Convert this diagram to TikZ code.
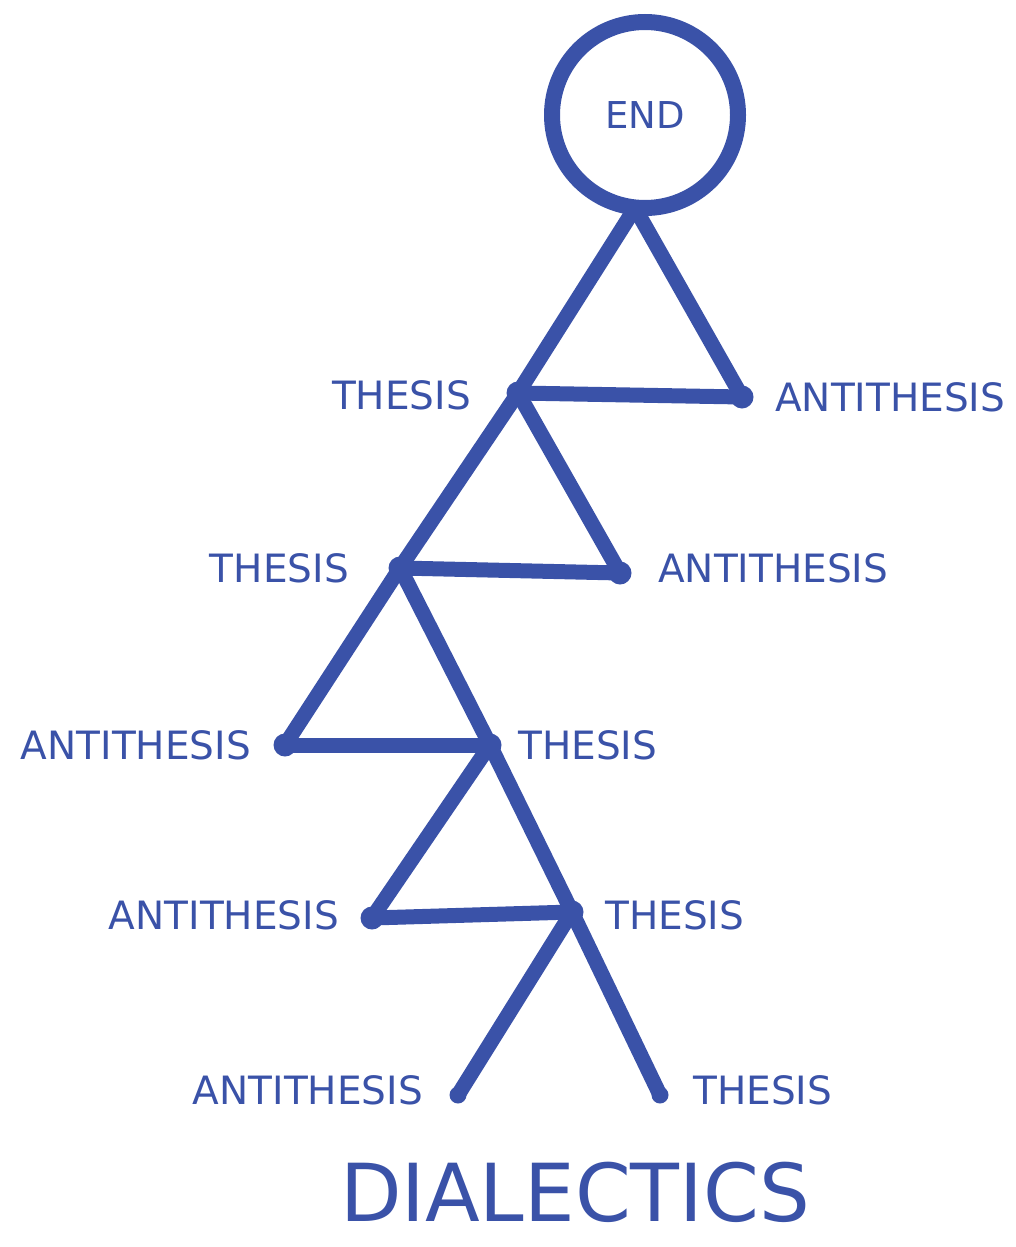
\documentclass[tikz,border=0pt]{standalone}
\usepackage{fontspec}
\setmainfont{DejaVu Sans}
\definecolor{ink}{HTML}{3A52A8}
\begin{document}
\begin{tikzpicture}[x=1pt,y=-1pt,
  edge/.style={draw=ink,line width=15pt,line cap=round,line join=round},
  dot/.style={circle,fill=ink,inner sep=0pt,minimum size=23pt},
  lbl/.style={text=ink,font=\fontsize{39}{39}\selectfont,inner sep=0pt}]
\useasboundingbox (0,0) rectangle (1016,1247);
% points
\node[circle,draw=ink,line width=16pt,minimum size=186pt,inner sep=0pt,text=ink,font=\fontsize{37}{37}\selectfont] (endc) at (645,115) {END};
\coordinate (top) at (635,208);
\node[dot] (t1) at (518,393) {};
\node[dot] (a1) at (742,397) {};
\node[dot] (t2) at (400,568) {};
\node[dot] (a2) at (620,573) {};
\node[dot] (a3) at (285,745) {};
\node[dot] (t3) at (490,745) {};
\node[dot] (a4) at (372,918) {};
\node[dot] (t4) at (572,912) {};
\node[dot,minimum size=17pt] (a5) at (458,1095) {};
\node[dot,minimum size=17pt] (t5) at (660,1095) {};
% edges
\draw[edge] (top) -- (t1.center);
\draw[edge] (top) -- (a1.center);
\draw[edge] (t1.center) -- (a1.center);
\draw[edge] (t1.center) -- (t2.center);
\draw[edge] (t1.center) -- (a2.center);
\draw[edge] (t2.center) -- (a2.center);
\draw[edge] (t2.center) -- (a3.center);
\draw[edge] (t2.center) -- (t3.center);
\draw[edge] (a3.center) -- (t3.center);
\draw[edge] (t3.center) -- (a4.center);
\draw[edge] (t3.center) -- (t4.center);
\draw[edge] (a4.center) -- (t4.center);
\draw[edge] (t4.center) -- (a5.center);
\draw[edge] (t4.center) -- (t5.center);
% labels
\node[lbl,anchor=east] (lt1) at (471,395) {THESIS};
\node[lbl,anchor=west] (la1) at (775,397) {ANTITHESIS};
\node[lbl,anchor=east] (lt2) at (349,568) {THESIS};
\node[lbl,anchor=west] (la2) at (658,568) {ANTITHESIS};
\node[lbl,anchor=east] (la3) at (251,745) {ANTITHESIS};
\node[lbl,anchor=west] (lt3) at (518,745) {THESIS};
\node[lbl,anchor=east] (la4) at (339,915) {ANTITHESIS};
\node[lbl,anchor=west] (lt4) at (605,915) {THESIS};
\node[lbl,anchor=east] (la5) at (423,1090) {ANTITHESIS};
\node[lbl,anchor=west] (lt5) at (693,1090) {THESIS};
\node[text=ink,font=\fontsize{80}{80}\selectfont,inner sep=0pt] (title) at (575,1192) {DIALECTICS};
\end{tikzpicture}
\end{document}
